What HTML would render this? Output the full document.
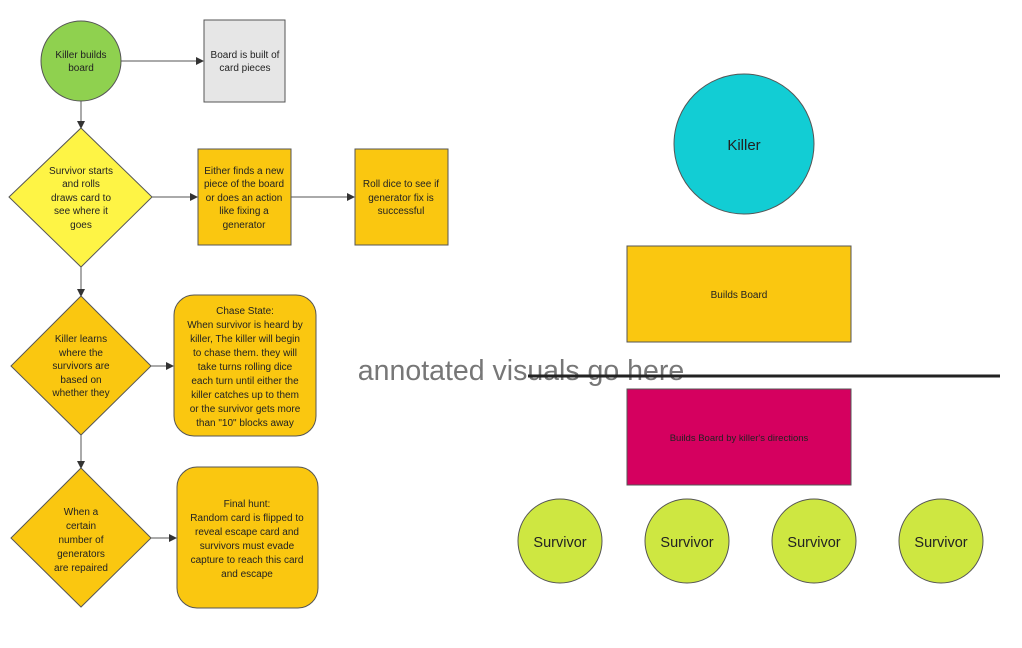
<!DOCTYPE html>
<html><head><meta charset="utf-8"><style>
html,body{margin:0;padding:0;background:#fff;width:1022px;height:648px;overflow:hidden}
svg{display:block}
text{font-family:"Liberation Sans",sans-serif;fill:#222}
.s{font-size:10px}
</style></head><body>
<svg width="1022" height="648" viewBox="0 0 1022 648" xmlns="http://www.w3.org/2000/svg">
<defs><marker id="a" markerWidth="8" markerHeight="8" refX="7" refY="4" orient="auto" markerUnits="userSpaceOnUse"><path d="M0,0 L8,4 L0,8 z" fill="#333"/></marker></defs>
<g stroke="#555" stroke-width="1" fill="none">
<line x1="121" y1="61" x2="203" y2="61" marker-end="url(#a)"/>
<line x1="81" y1="101" x2="81" y2="128" marker-end="url(#a)"/>
<line x1="152" y1="197" x2="197" y2="197" marker-end="url(#a)"/>
<line x1="291" y1="197" x2="354" y2="197" marker-end="url(#a)"/>
<line x1="81" y1="267" x2="81" y2="296" marker-end="url(#a)"/>
<line x1="151" y1="366" x2="173" y2="366" marker-end="url(#a)"/>
<line x1="81" y1="435" x2="81" y2="468" marker-end="url(#a)"/>
<line x1="151" y1="538" x2="176" y2="538" marker-end="url(#a)"/>
</g>
<g stroke="#555" stroke-width="1">
<circle cx="81" cy="61" r="40" fill="#8fd14f"/>
<rect x="204" y="20" width="81" height="82" fill="#e6e6e6"/>
<polygon points="81,128 152,197 81,267 9,197" fill="#fef445"/>
<rect x="198" y="149" width="93" height="96" fill="#fac710"/>
<rect x="355" y="149" width="93" height="96" fill="#fac710"/>
<polygon points="81,296 151,366 81,435 11,366" fill="#fac710"/>
<rect x="174" y="295" width="142" height="141" rx="20" fill="#fac710"/>
<polygon points="81,468 151,538 81,607 11,538" fill="#fac710"/>
<rect x="177" y="467" width="141" height="141" rx="20" fill="#fac710"/>
<circle cx="744" cy="144" r="70" fill="#12cdd4"/>
<rect x="627" y="246" width="224" height="96" fill="#fac710"/>
<rect x="627" y="389" width="224" height="96" fill="#d5005f"/>
<circle cx="560" cy="541" r="42" fill="#cee741"/>
<circle cx="687" cy="541" r="42" fill="#cee741"/>
<circle cx="814" cy="541" r="42" fill="#cee741"/>
<circle cx="941" cy="541" r="42" fill="#cee741"/>
</g>
<g class="s" text-anchor="middle">
<text x="81" y="58">Killer builds</text><text x="81" y="71">board</text>
<text x="245" y="58">Board is built of</text><text x="245" y="71">card pieces</text>
<text x="81" y="174">Survivor  starts</text><text x="81" y="187">and rolls</text><text x="81" y="201">draws card to</text><text x="81" y="214">see where it</text><text x="81" y="228">goes</text>
<text x="244" y="174">Either finds a new</text><text x="244" y="187">piece of the board</text><text x="244" y="201">or does an action</text><text x="244" y="214">like fixing a</text><text x="244" y="228">generator</text>
<text x="401" y="187">Roll dice to see if</text><text x="401" y="201">generator fix is</text><text x="401" y="214">successful</text>
<text x="81" y="342">Killer learns</text><text x="81" y="356">where the</text><text x="81" y="369">survivors are</text><text x="81" y="383">based on</text><text x="81" y="396">whether they</text>
<text x="245" y="314">Chase State:</text><text x="245" y="328">When survivor is heard by</text><text x="245" y="342">killer, The killer will begin</text><text x="245" y="356">to chase them. they will</text><text x="245" y="370">take turns rolling dice</text><text x="245" y="384">each turn until either the</text><text x="245" y="398">killer catches up to them</text><text x="245" y="412">or the survivor gets more</text><text x="245" y="426">than "10" blocks away</text>
<text x="81" y="515">When a</text><text x="81" y="529">certain</text><text x="81" y="543">number of</text><text x="81" y="557">generators</text><text x="81" y="571">are repaired</text>
<text x="247" y="507">Final hunt:</text><text x="247" y="521">Random card is flipped to</text><text x="247" y="535">reveal escape card and</text><text x="247" y="549">survivors must evade</text><text x="247" y="563">capture to reach this card</text><text x="247" y="577">and escape</text>
<text x="739" y="298">Builds Board</text>
<text x="739" y="441" style="font-size:9.5px">Builds Board by killer's directions</text>
</g>
<text x="744" y="150" text-anchor="middle" style="font-size:15px">Killer</text>
<g text-anchor="middle" style="font-size:14.5px">
<text x="560" y="547">Survivor</text><text x="687" y="547">Survivor</text><text x="814" y="547">Survivor</text><text x="941" y="547">Survivor</text>
</g>
<text x="521" y="380" text-anchor="middle" style="font-size:28.5px;fill:#777">annotated visuals go here</text>
<line x1="528" y1="376" x2="1000" y2="376" stroke="#222" stroke-width="3"/>
</svg>
</body></html>
